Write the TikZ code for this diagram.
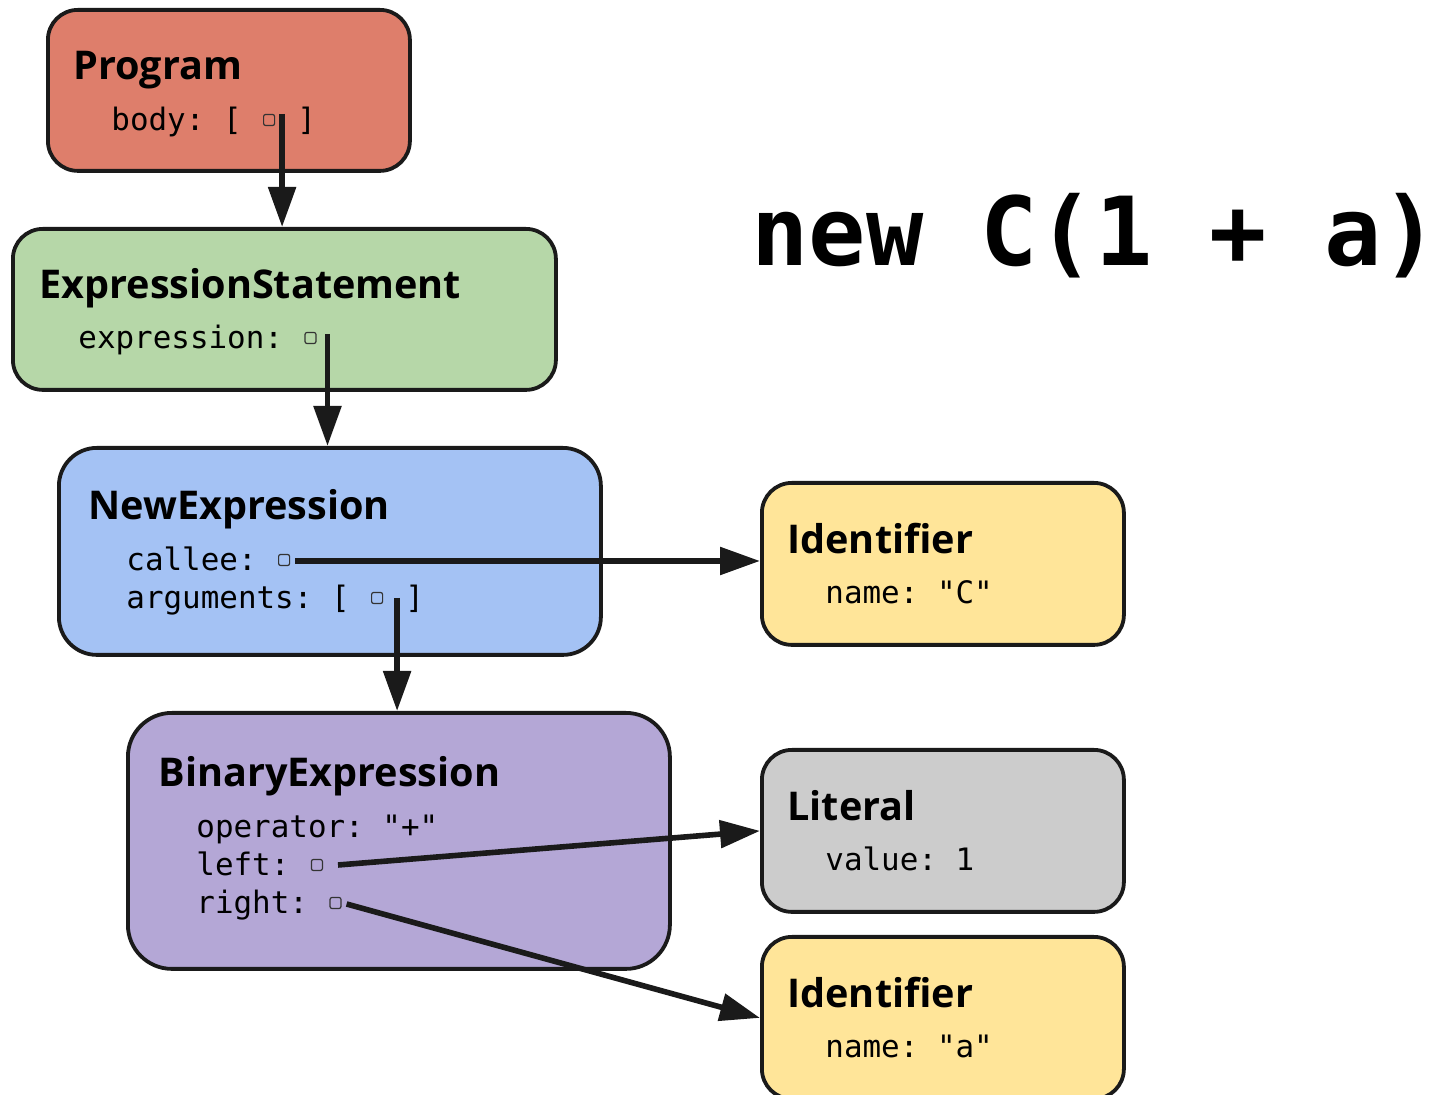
\documentclass[tikz,border=0pt]{standalone}
\usepackage{fontspec}
\setmainfont{Open Sans}
\setmonofont{DejaVu Sans Mono}
\usetikzlibrary{arrows.meta,calc}
\definecolor{cprog}{HTML}{DE7E6B}
\definecolor{cstmt}{HTML}{B6D7A8}
\definecolor{cnew}{HTML}{A4C2F4}
\definecolor{cbin}{HTML}{B4A7D6}
\definecolor{cid}{HTML}{FFE599}
\definecolor{clit}{HTML}{CCCCCC}
\definecolor{edge}{HTML}{1A1A1A}
\definecolor{sqc}{HTML}{333333}
\begin{document}
\begin{tikzpicture}[x=0.5pt,y=-0.5pt,
  box/.style={draw=edge, line width=1.9pt, anchor=north west, inner sep=0pt},
  ttl/.style={anchor=base west, inner sep=0pt, font=\fontsize{19.8pt}{19.8pt}\selectfont\bfseries},
  fld/.style={anchor=base west, inner sep=0pt, font=\ttfamily\fontsize{15.45pt}{15.45pt}\selectfont},
  sq/.style={draw=sqc, line width=0.6pt, rounded corners=1pt, minimum size=5.5pt, inner sep=0pt},
  arr/.style={draw=edge, line width=2.8pt, -{Triangle[length=20pt,width=13.5pt]}},
]
\useasboundingbox (0,0) rectangle (1447,1095);

% boxes
\node[box, fill=cprog, rounded corners=15pt, minimum width=181pt, minimum height=80.5pt] (prog) at (46,8) {};
\node[box, fill=cstmt, rounded corners=15pt, minimum width=271.5pt, minimum height=80.5pt] (es) at (11,227) {};
\node[box, fill=cnew, rounded corners=19pt, minimum width=271pt, minimum height=103.5pt] (ne) at (57,446) {};
\node[box, fill=cbin, rounded corners=22pt, minimum width=271pt, minimum height=128pt] (be) at (126,711) {};
\node[box, fill=cid, rounded corners=15pt, minimum width=181pt, minimum height=81pt] (idc) at (760,481) {};
\node[box, fill=clit, rounded corners=15pt, minimum width=181pt, minimum height=81pt] (lit) at (760,748) {};
\node[box, fill=cid, rounded corners=15pt, minimum width=181pt, minimum height=81pt] (ida) at (760,935) {};

% texts
\node[ttl] (progT) at (73,80) {Program};
\node[fld] (progF) at (111,131) {body:~[~~~]};
\node[sq] (progS) at ($(progF.base west)+({8.5*18.6},-11)$) {};

\node[ttl] (esT) at (39,299) {ExpressionStatement};
\node[fld] (esF) at (78,349) {expression:~};
\node[sq] (esS) at ($(esF.base west)+({12.5*18.6},-11)$) {};

\node[ttl] (neT) at (88,520) {NewExpression};
\node[fld] (neF1) at (126,571) {callee:~};
\node[sq] (neS1) at ($(neF1.base west)+({8.5*18.6},-11)$) {};
\node[fld] (neF2) at (126,609) {arguments:~[~~~]};
\node[sq] (neS2) at ($(neF2.base west)+({13.5*18.6},-11)$) {};

\node[ttl] (idcT) at (787,554) {Identifier};
\node[fld] (idcF) at (825,604) {name:~"C"};

\node[ttl] (beT) at (158,787) {BinaryExpression};
\node[fld] (beF1) at (196,838) {operator:~"+"};
\node[fld] (beF2) at (196,876) {left:~};
\node[sq] (beS2) at ($(beF2.base west)+({6.5*18.6},-11)$) {};
\node[fld] (beF3) at (196,914) {right:~};
\node[sq] (beS3) at ($(beF3.base west)+({7.5*18.6},-11)$) {};

\node[ttl] (litT) at (787,821) {Literal};
\node[fld] (litF) at (825,871) {value:~1};

\node[ttl] (idaT) at (787,1008) {Identifier};
\node[fld] (idaF) at (825,1058) {name:~"a"};

\node[anchor=base west, inner sep=0pt, font=\ttfamily\bfseries\fontsize{47.6pt}{47.6pt}\selectfont] (code) at (751,266) {new~C(1~+~a)};

% connectors
\coordinate (a1) at ($(progS.north)+(13,0)$);
\draw[arr] (a1) -- (a1 |- es.north);
\coordinate (a2) at ($(esS.center)+(17,-4)$);
\draw[arr] (a2) -- (a2 |- ne.north);
\coordinate (a3) at ($(neS1.east)+(5,1)$);
\draw[arr] (a3) -- (a3 -| idc.west);
\coordinate (a4) at ($(neS2.center)+(20,0)$);
\draw[arr] (a4) -- (a4 |- be.north);
\coordinate (a5) at ($(beS2.east)+(15,0)$);
\draw[arr] (a5) -- (lit.west);
\coordinate (a6) at ($(beS3.east)+(5,1)$);
\draw[arr] (a6) -- (ida.west);
\end{tikzpicture}
\end{document}
